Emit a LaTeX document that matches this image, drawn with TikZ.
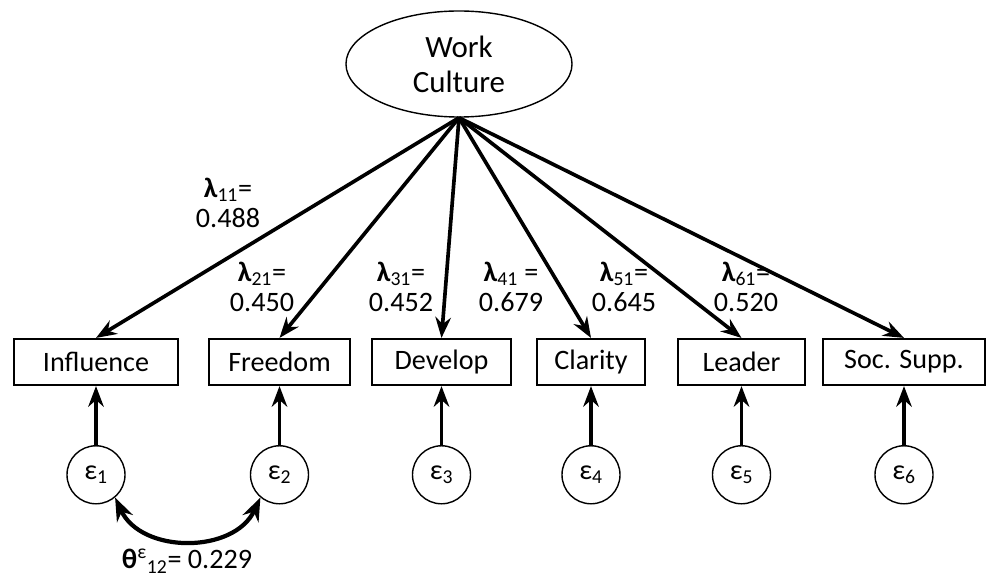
\documentclass[tikz,border=0pt]{standalone}
\usepackage{fontspec}
\setmainfont{Carlito}
\usetikzlibrary{arrows.meta,positioning,shapes.geometric}

\begin{document}
\begin{tikzpicture}[
  x=0.025cm, y=-0.025cm,
  >=Stealth,
  every node/.style={inner sep=2pt, font=\fontsize{20}{21}\selectfont},
  latent/.style={draw, ellipse, line width=1pt, minimum width=5.65cm, minimum height=2.65cm, align=center, font=\fontsize{22}{25}\selectfont},
  obs/.style={draw, line width=1.5pt, minimum height=1.15cm},
  err/.style={draw, circle, line width=1pt, minimum size=1.45cm, inner sep=0pt},
  load/.style={->, line width=2.6pt},
  resid/.style={->, line width=2.6pt},
  cov/.style={<->, line width=3pt},
  lbl/.style={align=center, font=\fontsize{20}{21.5}\selectfont},
  node distance=1.475cm
]
\useasboundingbox (0,0) rectangle (992,577);

% Latent factor
\node[latent] (wc) at (459,64) {Work\\Culture};

% Indicators
\node[obs, minimum width=4.1cm]   (infl) at (96,362)    {Influence};
\node[obs, minimum width=3.525cm] (free) at (279.5,362) {Freedom};
\node[obs, minimum width=3.475cm] (dev)  at (441.5,362) {Develop};
\node[obs, minimum width=2.7cm]   (clar) at (591,362)   {Clarity};
\node[obs, minimum width=3.175cm] (lead) at (741.5,362) {Leader};
\node[obs, minimum width=4.05cm]  (soc)  at (904,362)   {Soc. Supp.};

% Error terms
\node[err, below=of infl] (e1) {ε\textsubscript{1}};
\node[err, below=of free] (e2) {ε\textsubscript{2}};
\node[err, below=of dev]  (e3) {ε\textsubscript{3}};
\node[err, below=of clar] (e4) {ε\textsubscript{4}};
\node[err, below=of lead] (e5) {ε\textsubscript{5}};
\node[err, below=of soc]  (e6) {ε\textsubscript{6}};

% Loadings
\foreach \t in {infl,free,dev,clar,lead,soc}
  \draw[load] (wc.south) -- (\t.north);

% Residual arrows
\foreach \e/\t in {e1/infl,e2/free,e3/dev,e4/clar,e5/lead,e6/soc}
  \draw[resid] (\e.north) -- (\t.south);

% Error covariance
\draw[cov] (e1.-50) to[out=-65, in=-115, looseness=1.1] (e2.-130);

% Labels
\node[lbl] (l11) at (228,203) {\textbf{λ}\textsubscript{11}=\\0.488};
\node[lbl] (l21) at (262,287) {\textbf{λ}\textsubscript{21}=\\0.450};
\node[lbl] (l31) at (401,287) {\textbf{λ}\textsubscript{31}=\\0.452};
\node[lbl] (l41) at (511,287) {\textbf{λ}\textsubscript{41} =\\0.679};
\node[lbl] (l51) at (624,287) {\textbf{λ}\textsubscript{51}=\\0.645};
\node[lbl] (l61) at (746,287) {\textbf{λ}\textsubscript{61}=\\0.520};
\node (th12) at (187,561) {\textbf{θ}\textsuperscript{ε}\textsubscript{12}= 0.229};

\end{tikzpicture}
\end{document}
